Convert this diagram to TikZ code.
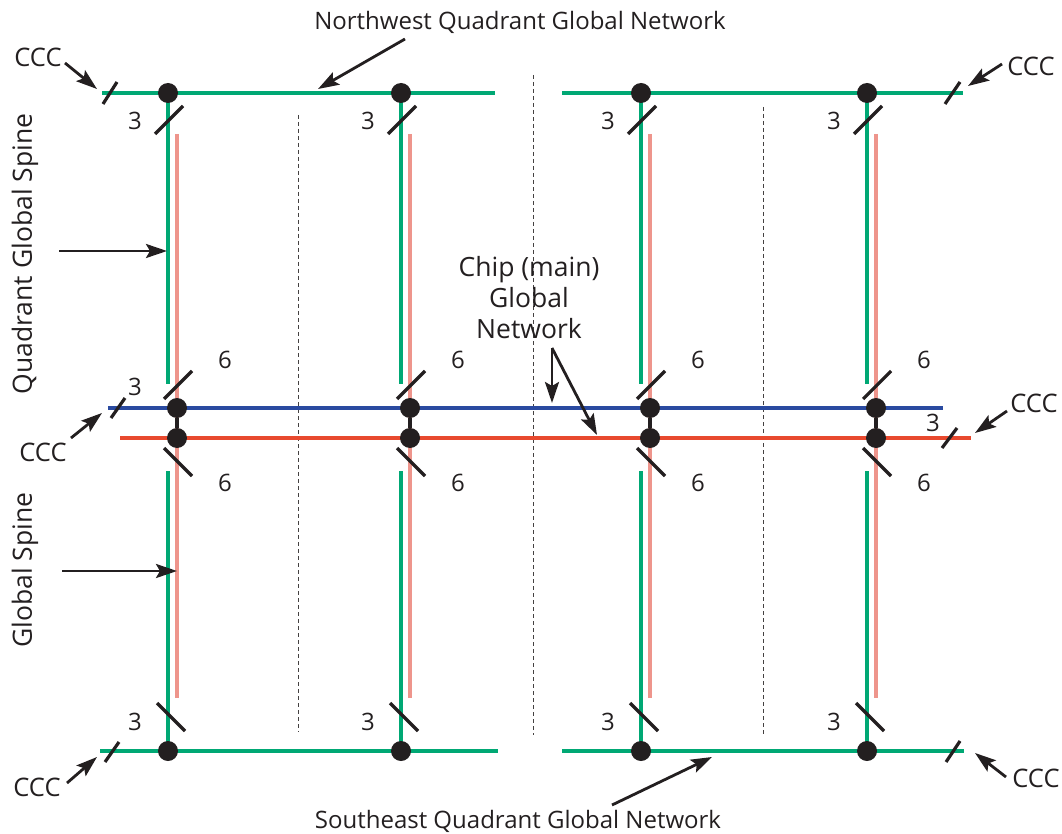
\documentclass[tikz,border=0pt]{standalone}
\usepackage{fontspec}
\setmainfont{Open Sans}
\usetikzlibrary{arrows.meta}
\definecolor{gnet}{HTML}{00A874}
\definecolor{pnet}{HTML}{EE958C}
\definecolor{bnet}{HTML}{2A4AA0}
\definecolor{rnet}{HTML}{E8492E}
\definecolor{ink}{HTML}{231F20}
\tikzset{
  gline/.style={draw=gnet,line width=3.2pt},
  pline/.style={draw=pnet,line width=3.2pt},
  bline/.style={draw=bnet,line width=3.2pt},
  rline/.style={draw=rnet,line width=3.2pt},
  slash/.style={draw=ink,line width=3.2pt},
  dot/.style={circle,fill=ink,inner sep=0pt,minimum size=20pt},
  lbl/.style={font=\fontsize{24}{28}\selectfont,text=ink,inner sep=0pt},
  big/.style={font=\fontsize{26.5}{31}\selectfont},
  ccc/.style={font=\fontsize{25.5}{30}\selectfont},
  arr/.style={draw=ink,line width=2.8pt,-{Stealth[length=21pt,width=14pt,inset=4pt]}},
  sep/.style={draw=ink!85,line width=1pt,dash pattern=on 4pt off 3pt},
  link/.style={draw=ink,line width=3.5pt}
}
\begin{document}
\begin{tikzpicture}[x=1pt,y=-1pt]
\useasboundingbox (0,0) rectangle (1062,834);
% separators
\coordinate (s1a) at (298,115); \coordinate (s1b) at (298,732);
\coordinate (s2a) at (533,75);  \coordinate (s2b) at (533,735);
\coordinate (s3a) at (763,107); \coordinate (s3b) at (763,735);
\draw[sep] (s1a) -- (s1b);
\draw[sep] (s2a) -- (s2b);
\draw[sep] (s3a) -- (s3b);
% quadrant horizontal networks
\coordinate (tl1) at (102,93);  \coordinate (tl2) at (495,93);
\coordinate (tr1) at (562,93);  \coordinate (tr2) at (963,93);
\coordinate (bl1) at (100,751); \coordinate (bl2) at (498,751);
\coordinate (br1) at (562,751); \coordinate (br2) at (964,751);
\draw[gline] (tl1) -- (tl2);
\draw[gline] (tr1) -- (tr2);
\draw[gline] (bl1) -- (bl2);
\draw[gline] (br1) -- (br2);
% columns: green and pink spines
\foreach \g/\p [count=\i] in {168/177,401/410,641/650,867/876}{
  \coordinate (ga\i) at (\g,93);  \coordinate (gb\i) at (\g,384);
  \coordinate (gc\i) at (\g,471); \coordinate (gd\i) at (\g,751);
  \coordinate (pa\i) at (\p,134); \coordinate (pb\i) at (\p,698);
  \draw[gline] (ga\i) -- (gb\i);
  \draw[gline] (gc\i) -- (gd\i);
  \draw[pline] (pa\i) -- (pb\i);
}
% chip global network
\coordinate (bn1) at (108,408); \coordinate (bn2) at (943,408);
\coordinate (rn1) at (120,438); \coordinate (rn2) at (971,438);
\draw[bline] (bn1) -- (bn2);
\draw[rline] (rn1) -- (rn2);
% dots, slashes, labels per column
\foreach \g/\p [count=\i] in {168/177,401/410,641/650,867/876}{
  \node[dot] (td\i) at (\g,93) {};
  \node[dot] (bd\i) at (\g,751) {};
  \node[dot] (ud\i) at (\p,408) {};
  \node[dot] (ld\i) at (\p,438) {};
  \draw[link] (ud\i) -- (ld\i);
  \draw[slash] (\g-13,134) -- (\g+15,106);
  \draw[slash] (\g-11,703) -- (\g+17,731);
  \draw[slash] (\p-13,399) -- (\p+15,371);
  \draw[slash] (\p-13,448) -- (\p+15,476);
  \node[lbl] (tt\i) at (\g-33,121) {3};
  \node[lbl] (bt\i) at (\g-33,722) {3};
  \node[lbl] (us\i) at (\p+48,360) {6};
  \node[lbl] (ls\i) at (\p+48,483) {6};
}
% end slashes
\draw[slash] (103,104) -- (117,82);
\draw[slash] (945,104) -- (960,82);
\draw[slash] (105,762) -- (119,742);
\draw[slash] (946,762) -- (960,741);
\draw[slash] (111,418) -- (125,398);
\draw[slash] (942,448) -- (957,428);
\node[lbl] (b3) at (135,387) {3};
\node[lbl] (r3) at (933,423) {3};
% CCC labels
\node[lbl,ccc] (c1) at (38,57) {CCC};
\node[lbl,ccc] (c2) at (1031,66) {CCC};
\node[lbl,ccc] (c3) at (43,452) {CCC};
\node[lbl,ccc] (c4) at (1034,403) {CCC};
\node[lbl,ccc] (c5) at (37,787) {CCC};
\node[lbl,ccc] (c6) at (1036,778) {CCC};
\coordinate (c1t) at (65,63);   \coordinate (c1h) at (97,89);
\coordinate (c2t) at (1002,64); \coordinate (c2h) at (968,86);
\coordinate (c3t) at (71,438);  \coordinate (c3h) at (102,413);
\coordinate (c4t) at (1007,411);\coordinate (c4h) at (975,433);
\coordinate (c5t) at (67,783);  \coordinate (c5h) at (97,757);
\coordinate (c6t) at (1006,777);\coordinate (c6h) at (975,753);
\foreach \k in {1,...,6}{\draw[arr] (c\k t) -- (c\k h);}
% titles
\node[lbl] (nw) at (520,22) {Northwest Quadrant Global Network};
\node[lbl] (se) at (518,821) {Southeast Quadrant Global Network};
\coordinate (nwt) at (405,39); \coordinate (nwh) at (318,89);
\coordinate (set) at (612,805); \coordinate (seh) at (712,757);
\draw[arr] (nwt) -- (nwh);
\draw[arr] (set) -- (seh);
% spine labels
\node[lbl,big,rotate=90] (qgs) at (25,254) {Quadrant Global Spine};
\node[lbl,big,rotate=90] (gs) at (25,570) {Global Spine};
\coordinate (qgst) at (59,251); \coordinate (qgsh) at (167,251);
\coordinate (gst) at (62,571);  \coordinate (gsh) at (177,571);
\draw[arr] (qgst) -- (qgsh);
\draw[arr] (gst) -- (gsh);
% chip network label
\node[lbl,align=center,font=\fontsize{26.5}{31}\selectfont] (chip) at (529,298) {Chip (main)\\Global\\Network};
\coordinate (cht) at (552,348);
\coordinate (chb) at (552,403);
\coordinate (chr) at (597,435);
\draw[arr] (cht) -- (chb);
\draw[arr] (cht) -- (chr);
\end{tikzpicture}
\end{document}
